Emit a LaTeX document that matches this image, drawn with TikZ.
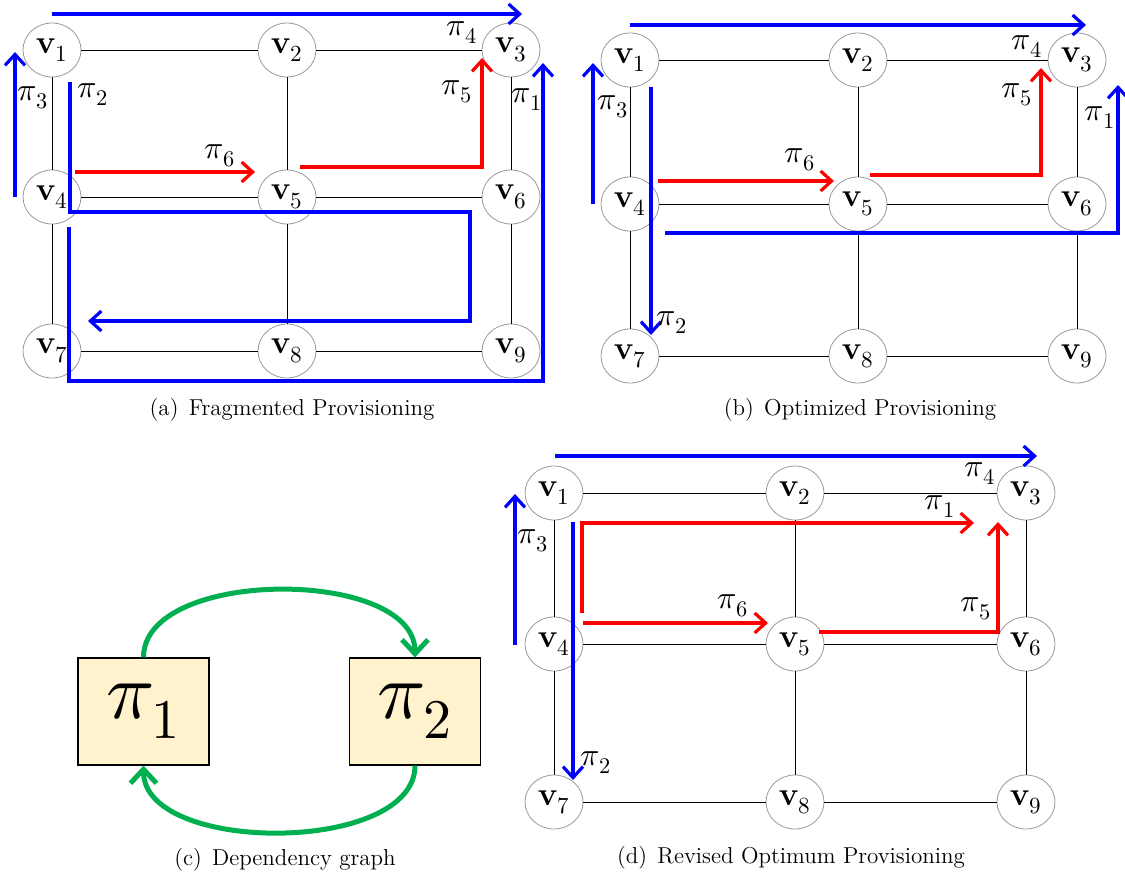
\documentclass[tikz,border=0pt]{standalone}
\usepackage{unicode-math}
\usetikzlibrary{arrows.meta,shapes.geometric}

\definecolor{pathblue}{RGB}{0,0,255}
\definecolor{pathred}{RGB}{255,0,0}
\definecolor{depgreen}{RGB}{0,176,80}
\definecolor{boxfill}{RGB}{255,242,204}

\tikzset{
  vtx/.style={ellipse, draw=gray!80, line width=0.4pt, minimum width=29pt, minimum height=27pt, inner sep=0pt, font=\fontsize{16.5}{19}\selectfont},
  link/.style={line width=0.5pt},
  route/.style={line width=1.6pt, -{Straight Barb[length=5.5pt,width=10pt]}},
  bluep/.style={route, pathblue},
  redp/.style={route, pathred},
  plbl/.style={font=\fontsize{16}{19}\selectfont, inner sep=0pt},
  caplbl/.style={font=\fontsize{11.5}{14}\selectfont},
  depbox/.style={draw, line width=0.6pt, fill=boxfill, minimum width=65.5pt, minimum height=53.5pt, font=\fontsize{40}{44}\selectfont},
  dep/.style={depgreen, line width=2.5pt, -{Straight Barb[length=7pt,width=13pt]}}
}

% 3x3 network: prefix, three columns, three rows
\newcommand{\netgrid}[7]{%
  \foreach \c/\x in {1/#2,2/#3,3/#4}
    \foreach \r/\y in {0/#5,1/#6,2/#7}{
      \pgfmathtruncatemacro{\k}{3*\r+\c}
      \node[vtx] (#1\k) at (\x,\y) {$\mathbf{v}_{\k}$};
    }
  \foreach \i/\j in {1/2,2/3,4/5,5/6,7/8,8/9,1/4,4/7,2/5,5/8,3/6,6/9}
    \draw[link] (#1\i) -- (#1\j);
}

\begin{document}
\begin{tikzpicture}[x=0.5pt, y=-0.5pt]
  \useasboundingbox (0,0) rectangle (1125,878);

  % (a) fragmented
  \netgrid{a}{52}{287}{511}{50}{197}{351}
  \draw[bluep] (52,14) -- (522,14);
  \node[plbl] (a-pi4) at (462,33) {$\pi_4$};
  \draw[bluep] (15,197) -- (15,52);
  \node[plbl] (a-pi3) at (33,98) {$\pi_3$};
  \draw[bluep] (70,82) -- (70,212) -- (470,212) -- (470,321) -- (88,321);
  \node[plbl] (a-pi2) at (93,95) {$\pi_2$};
  \draw[redp] (75,172) -- (255,172);
  \node[plbl] (a-pi6) at (220,156) {$\pi_6$};
  \draw[redp] (300,167) -- (482,167) -- (482,58);
  \node[plbl] (a-pi5) at (457,92) {$\pi_5$};
  \draw[bluep] (69,227) -- (69,381) -- (543,381) -- (543,63);
  \node[plbl] (a-pi1) at (527,100) {$\pi_1$};
  \node[caplbl] (a-cap) at (292,410) {(a)\hspace{0.45em}Fragmented Provisioning};

  % (b) optimized
  \netgrid{b}{630}{858}{1077}{60}{204}{356}
  \draw[bluep] (630,25) -- (1086,25);
  \node[plbl] (b-pi4) at (1027,47) {$\pi_4$};
  \draw[bluep] (593,204) -- (593,63);
  \node[plbl] (b-pi3) at (613,107) {$\pi_3$};
  \draw[bluep] (651,87) -- (651,335);
  \node[plbl] (b-pi2) at (672,323) {$\pi_2$};
  \draw[redp] (658,181) -- (834,181);
  \node[plbl] (b-pi6) at (800,160) {$\pi_6$};
  \draw[redp] (870,175) -- (1041,175) -- (1041,68);
  \node[plbl] (b-pi5) at (1017,95) {$\pi_5$};
  \draw[bluep] (665,233) -- (1118,233) -- (1118,85);
  \node[plbl] (b-pi1) at (1100,118) {$\pi_1$};
  \node[caplbl] (b-cap) at (860,410) {(b)\hspace{0.45em}Optimized Provisioning};

  % (c) dependency
  \node[depbox] (p1) at (143.5,711.5) {$\pi_1$};
  \node[depbox] (p2) at (415,711.5) {$\pi_2$};
  \draw[dep] (p1.north) .. controls +(0,-90) and +(0,-90) .. (p2.north);
  \draw[dep] (p2.south) .. controls +(0,89) and +(0,89) .. (p1.south);
  \node[caplbl] (c-cap) at (285,860) {(c)\hspace{0.45em}Dependency graph};

  % (d) revised
  \netgrid{d}{554}{795}{1026}{493}{644}{802}
  \draw[bluep] (555,456) -- (1037,456);
  \node[plbl] (d-pi4) at (980,474) {$\pi_4$};
  \draw[bluep] (515,645) -- (515,494);
  \node[plbl] (d-pi3) at (533,541) {$\pi_3$};
  \draw[bluep] (573,522) -- (573,780);
  \node[plbl] (d-pi2) at (596,763) {$\pi_2$};
  \draw[redp] (582,613) -- (582,523) -- (974,523);
  \node[plbl] (d-pi1) at (940,507) {$\pi_1$};
  \draw[redp] (583,623) -- (768,623);
  \node[plbl] (d-pi6) at (733,606) {$\pi_6$};
  \draw[redp] (819,632) -- (998,632) -- (998,522);
  \node[plbl] (d-pi5) at (976,609) {$\pi_5$};
  \node[caplbl] (d-cap) at (791,858) {(d)\hspace{0.45em}Revised Optimum Provisioning};
\end{tikzpicture}
\end{document}
